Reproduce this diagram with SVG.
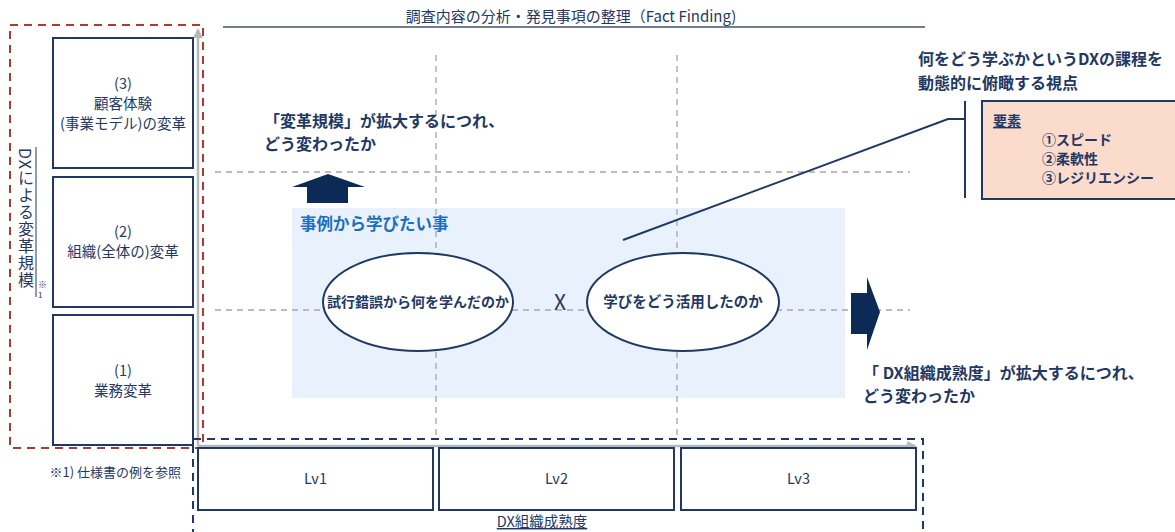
<svg xmlns="http://www.w3.org/2000/svg" width="1175" height="532" viewBox="0 0 1175 532">
<style>
text{font-family:"Noto Sans CJK JP","Liberation Sans",sans-serif;fill:#1f3864}
.box{fill:#fff;stroke:#1f3864;stroke-width:2}
.lbl{font-size:14.5px;text-anchor:middle}
.grid{stroke:#a6a6a6;stroke-width:1.3;stroke-dasharray:6 5;fill:none}
.axis{stroke:#b4b9b9;stroke-width:2.5;fill:none}
.big{font-size:16px;font-weight:bold}
</style>
<defs>
<marker id="ah" viewBox="0 0 10 10" refX="8" refY="5" markerWidth="4" markerHeight="4" orient="auto" markerUnits="strokeWidth">
<path d="M0,0 L10,5 L0,10 z" fill="#b4b9b9"/>
</marker>
</defs>
<rect width="1175" height="532" fill="#fff"/>

<g id="title">
<text x="571" y="22" font-size="15" text-anchor="middle">調査内容の分析・発見事項の整理（Fact Finding)</text>
<line x1="223" y1="27" x2="925" y2="27" stroke="#44546a" stroke-width="1.5"/>
</g>

<g id="learn-area">
<rect x="292" y="208" width="553" height="190" fill="#e9f1fc"/>
<text x="300" y="230" font-size="16.5" font-weight="bold" style="fill:#1b6ec2">事例から学びたい事</text>
</g>

<g id="connectors">
<line class="grid" x1="436" y1="55" x2="436" y2="438"/>
<line class="grid" x1="677" y1="55" x2="677" y2="438"/>
<line class="grid" x1="215" y1="172" x2="910" y2="172"/>
<line class="grid" x1="215" y1="310" x2="910" y2="310"/>
<line class="axis" x1="198" y1="446" x2="198" y2="30" marker-end="url(#ah)"/>
<line class="axis" x1="198" y1="446" x2="915" y2="446" marker-end="url(#ah)"/>
<path d="M307,203 L307,187 L292,187 L328,174 L365,187 L348,187 L348,203 Z" fill="#0b2a56"/>
<path d="M851,293 L867,293 L867,277 L880,312 L867,350 L867,334 L851,334 Z" fill="#0b2a56"/>
<polyline points="623,240 948,119 965,119" fill="none" stroke="#1f3864" stroke-width="2"/>
<line x1="965" y1="101" x2="965" y2="198" stroke="#1f3864" stroke-width="2"/>
</g>

<g id="scale-frame">
<rect x="10" y="25" width="193" height="423" fill="none" stroke="#b03a2e" stroke-width="2" stroke-dasharray="8 6"/>
<text x="26" y="148" font-size="16" letter-spacing="1" style="writing-mode:vertical-rl">DXによる変革規模</text>
<line x1="36" y1="147" x2="36" y2="297" stroke="#1f3864" stroke-width="1"/>
<text x="38" y="288" font-size="9">※</text>
<text x="38" y="298" font-size="8">1</text>
</g>
<g id="box3">
<rect class="box" x="53" y="38" width="140" height="130"/>
<text class="lbl" x="123" y="89">(3)</text>
<text class="lbl" x="123" y="109">顧客体験</text>
<text class="lbl" x="123" y="129">(事業モデル)の変革</text>
</g>
<g id="box2">
<rect class="box" x="53" y="177" width="140" height="130"/>
<text class="lbl" x="123" y="237">(2)</text>
<text class="lbl" x="123" y="257">組織(全体の)変革</text>
</g>
<g id="box1">
<rect class="box" x="53" y="315" width="140" height="130"/>
<text class="lbl" x="123" y="376">(1)</text>
<text class="lbl" x="123" y="396">業務変革</text>
</g>
<text x="181" y="477" font-size="13" text-anchor="end">※1) 仕様書の例を参照</text>

<g id="maturity-frame">
<rect x="193" y="439" width="730" height="110" fill="none" stroke="#1f3864" stroke-width="2" stroke-dasharray="8 6"/>
<text x="542" y="527" font-size="14.5" text-anchor="middle" text-decoration="underline">DX組織成熟度</text>
</g>
<g id="lv1"><rect class="box" x="198" y="448" width="235" height="62"/><text class="lbl" x="315.5" y="484" font-size="13">Lv1</text></g>
<g id="lv2"><rect class="box" x="439" y="448" width="235" height="62"/><text class="lbl" x="556.5" y="484" font-size="13">Lv2</text></g>
<g id="lv3"><rect class="box" x="681" y="448" width="235" height="62"/><text class="lbl" x="798.5" y="484" font-size="13">Lv3</text></g>

<g id="scale-heading">
<text class="big" x="264" y="127">「変革規模」が拡大するにつれ、</text>
<text class="big" x="264" y="150">どう変わったか</text>
</g>
<g id="maturity-heading">
<text class="big" x="863" y="379">「 DX組織成熟度」が拡大するにつれ、</text>
<text class="big" x="863" y="402">どう変わったか</text>
</g>

<g id="ellipse1">
<ellipse cx="418" cy="302" rx="95" ry="49" fill="#fff" stroke="#1f3864" stroke-width="2"/>
<text x="418" y="307" font-size="14" font-weight="bold" text-anchor="middle">試行錯誤から何を学んだのか</text>
</g>
<text x="560" y="310" font-size="21" text-anchor="middle">X</text>
<g id="ellipse2">
<ellipse cx="683" cy="302" rx="96" ry="49" fill="#fff" stroke="#1f3864" stroke-width="2"/>
<text x="683" y="307" font-size="14.5" font-weight="bold" text-anchor="middle">学びをどう活用したのか</text>
</g>

<g id="viewpoint">
<text class="big" x="918" y="65">何をどう学ぶかというDXの課程を</text>
<text class="big" x="918" y="89">動態的に俯瞰する視点</text>
</g>
<g id="elements">
<rect x="982" y="101" width="200" height="98" fill="#fbdccc" stroke="#1f3864" stroke-width="2"/>
<text x="993" y="126" font-size="14" font-weight="bold" text-decoration="underline">要素</text>
<text x="1042" y="145" font-size="14" font-weight="bold">①スピード</text>
<text x="1042" y="164" font-size="14" font-weight="bold">②柔軟性</text>
<text x="1042" y="183" font-size="14" font-weight="bold">③レジリエンシー</text>
</g>
</svg>
